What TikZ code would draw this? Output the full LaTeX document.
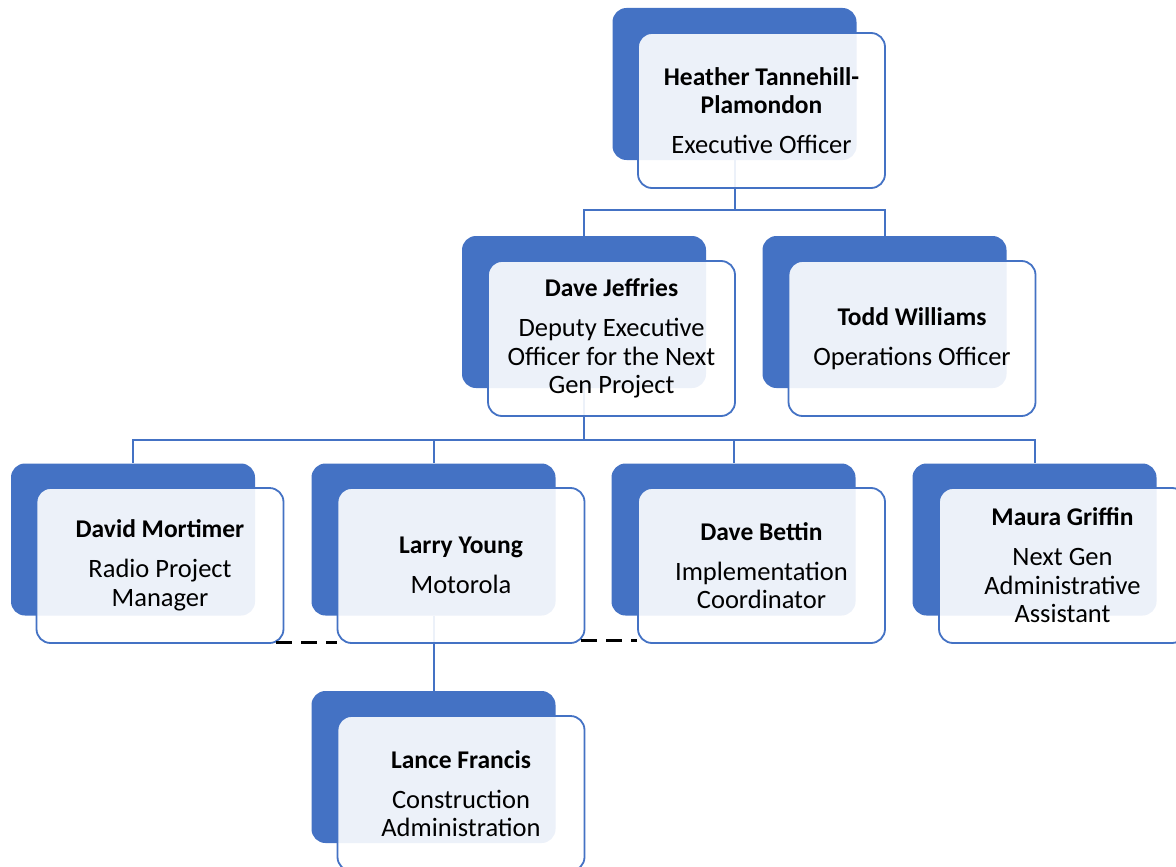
\documentclass[tikz,border=0pt]{standalone}
\usepackage{fontspec}
\setmainfont{Carlito}
\definecolor{orgblue}{HTML}{4472C4}
\newcommand{\who}[1]{{\fontsize{25.5}{28.5}\selectfont\bfseries #1}}
\begin{document}
\begin{tikzpicture}[x=1pt,y=-1pt,
    back/.style={fill=orgblue,rounded corners=14pt,minimum width=244pt,minimum height=152pt,inner sep=0pt},
    card/.style={draw=orgblue,line width=1.8pt,fill=white,fill opacity=0.9,text opacity=1,rounded corners=14pt,
        minimum width=247pt,minimum height=155pt,inner sep=0pt,align=center,font=\fontsize{26.5}{28.5}\selectfont},
    link/.style={orgblue,line width=2pt},
    side/.style={black,line width=3pt,dash pattern=on 16pt off 9pt}]
    \useasboundingbox (0,0) rectangle (1176,867);
    % back plates
    \node[back] (hbk) at (734.5,84) {};
    \node[back] (djbk) at (584,312) {};
    \node[back] (twbk) at (884.5,312) {};
    \node[back] (dmbk) at (133,539.5) {};
    \node[back] (lybk) at (433.5,539.5) {};
    \node[back] (dbbk) at (733.5,539.5) {};
    \node[back] (mgbk) at (1034.5,539.5) {};
    \node[back] (lfbk) at (433.5,767) {};
    % reporting lines
    \coordinate (bus1) at (734.5,210);
    \coordinate (bus2) at (584,440);
    \draw[link] (hbk.south) -- (bus1) -| (djbk.north);
    \draw[link] (bus1) -| (twbk.north);
    \draw[link] (djbk.south) -- (bus2) -| (dmbk.north);
    \draw[link] (bus2) -| (lybk.north);
    \draw[link] (bus2) -| (dbbk.north);
    \draw[link] (bus2) -| (mgbk.north);
    \draw[link] (lybk.south) -- (lfbk.north);
    % cards
    \node[card] (h) at (761.5,110.5) {\who{Heather Tannehill-}\\\who{Plamondon}\\[11.5pt]Executive Officer};
    \node[card] (dj) at (611.5,338.5) {\who{Dave Jeffries}\\[11.5pt]Deputy Executive\\Officer for the Next\\Gen Project};
    \node[card] (tw) at (912,338.5) {\who{Todd Williams}\\[11.5pt]Operations Officer};
    \node[card] (dm) at (160,565.5) {\who{David Mortimer}\\[11.5pt]Radio Project\\Manager};
    \node[card] (ly) at (461,565.5) {\who{Larry Young}\\[11.5pt]Motorola};
    \node[card] (db) at (761.5,565.5) {\who{Dave Bettin}\\[11.5pt]Implementation\\Coordinator};
    \node[card] (mg) at (1062.5,565.5) {\who{Maura Griffin}\\[11.5pt]Next Gen\\Administrative\\Assistant};
    \node[card] (lf) at (461,793.5) {\who{Lance Francis}\\[11.5pt]Construction\\Administration};
    % dotted-line relations
    \draw[side] ([shift={(-8,-1.5)}]dm.south east) -- ([shift={(0,-1.5)}]ly.south west);
    \draw[side] ([shift={(-4,-3)}]ly.south east) -- ([shift={(0,-3)}]db.south west);
\end{tikzpicture}
\end{document}
